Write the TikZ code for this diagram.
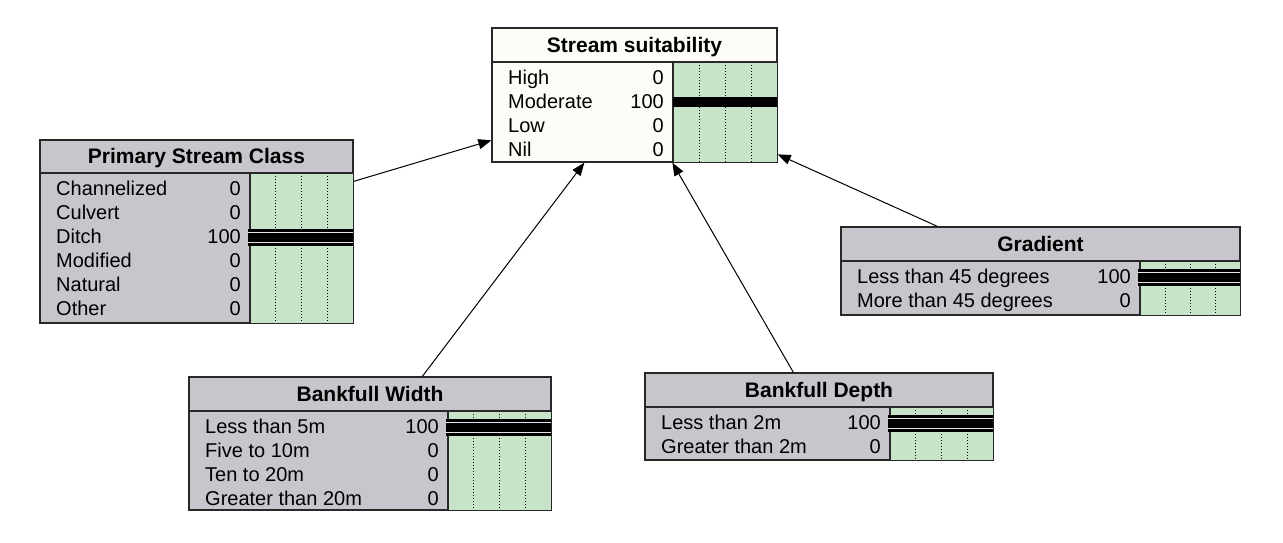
\documentclass[tikz,border=0pt]{standalone}
\usepackage{fontspec}
\setmainfont{Liberation Sans}
\usetikzlibrary{arrows.meta,calc,fit}
\definecolor{panelgrey}{RGB}{200,197,204}
\definecolor{papercream}{RGB}{253,252,246}
\definecolor{bargreen}{RGB}{200,228,200}
\definecolor{edgegrey}{RGB}{40,40,40}
\tikzset{
  box/.style={draw=edgegrey, line width=1.3pt, inner sep=0pt},
  rule/.style={draw=edgegrey, line width=1.3pt},
  quarter/.style={black, line width=1pt, dash pattern=on 1pt off 2pt},
  statetext/.style={font=\fontsize{20}{24}\selectfont, inner sep=0pt},
  headtext/.style={font=\fontsize{21}{25}\selectfont\bfseries, inner sep=0pt, anchor=base},
  link/.style={draw=black, line width=1pt, -{Triangle[length=13pt,width=10pt]}},
}
% name, left, top, right, bottom, head bottom, bar left, fill, title
\newcommand{\cptnode}[9]{%
  \node[box, fill=#8, fit={(#2,#3)(#4,#5)}] (#1) {};
  \fill[bargreen] (#7,#6) rectangle (#4,#5);
  \foreach \f in {0.25,0.5,0.75}
    \draw[quarter] ({#7+\f*(#4-#7)},#6) -- ({#7+\f*(#4-#7)},#5);
  \draw[rule] (#2,#6) -- (#4,#6) (#7,#6) -- (#7,#5);
  \node[headtext] at ({(#2+#4)/2},{(#3+#6)/2+7}) {#9};
}
% left, head bottom, bar left, states
\newcommand{\cptrows}[4]{%
  \foreach \lab/\val [count=\i] in {#4} {
    \node[statetext, anchor=base west] at ({#1+16},{#2+22+24*(\i-1)}) {\lab};
    \node[statetext, anchor=base east] at ({#3-9},{#2+22+24*(\i-1)}) {\val};
  }
}
% bar left, right, row centre
\newcommand{\fullbar}[3]{%
  \fill[black] ({#1-2},{#3-8.5}) rectangle (#2,{#3+8.5});
  \draw[panelgrey!50!white, line width=1pt] ({#1-2},{#3-5}) -- (#2,{#3-5})
    ({#1-2},{#3+5}) -- (#2,{#3+5});
}
\newcommand{\fullbarplain}[3]{%
  \fill[black] (#1,{#3-5}) rectangle (#2,{#3+5});
}

\begin{document}
\begin{tikzpicture}[x=1pt,y=-1pt]
\useasboundingbox[fill=white] (0,0) rectangle (1283,542);

% the nodes
\cptnode{suit}{492}{28}{777}{162}{62}{673}{papercream}{Stream suitability}
\cptrows{492}{62}{673}{High/0,Moderate/100,Low/0,Nil/0}
\fullbarplain{673}{777}{102}

\cptnode{psc}{40}{140}{353}{323}{173}{250}{panelgrey}{Primary Stream Class}
\cptrows{40}{173}{250}{Channelized/0,Culvert/0,Ditch/100,Modified/0,Natural/0,Other/0}
\fullbar{250}{353}{237}

\cptnode{grad}{841}{227}{1240}{315}{261}{1140}{panelgrey}{Gradient}
\cptrows{841}{261}{1140}{Less than 45 degrees/100,More than 45 degrees/0}
\fullbar{1140}{1240}{277}

\cptnode{bw}{189}{377}{551}{510}{411}{448}{panelgrey}{Bankfull Width}
\cptrows{189}{411}{448}{Less than 5m/100,Five to 10m/0,Ten to 20m/0,Greater than 20m/0}
\fullbar{448}{551}{427}

\cptnode{bd}{645}{373}{993}{460}{407}{890}{panelgrey}{Bankfull Depth}
\cptrows{645}{407}{890}{Less than 2m/100,Greater than 2m/0}
\fullbar{890}{993}{423}

% outlines on top
\foreach \n in {suit,psc,grad,bw,bd}
  \draw[rule] (\n.north west) rectangle (\n.south east);

% the links
\draw[link] ($(psc.north east)+(0,42)$) -- ($(suit.north west)+(0,113)$);
\draw[link] ($(bw.north west)+(234,0)$) -- ($(suit.south west)+(93,0)$);
\draw[link] ($(bd.north west)+(149,0)$) -- ($(suit.south west)+(181,0)$);
\draw[link] ($(grad.north west)+(97,0)$) -- ($(suit.north east)+(0,127)$);
\end{tikzpicture}
\end{document}
